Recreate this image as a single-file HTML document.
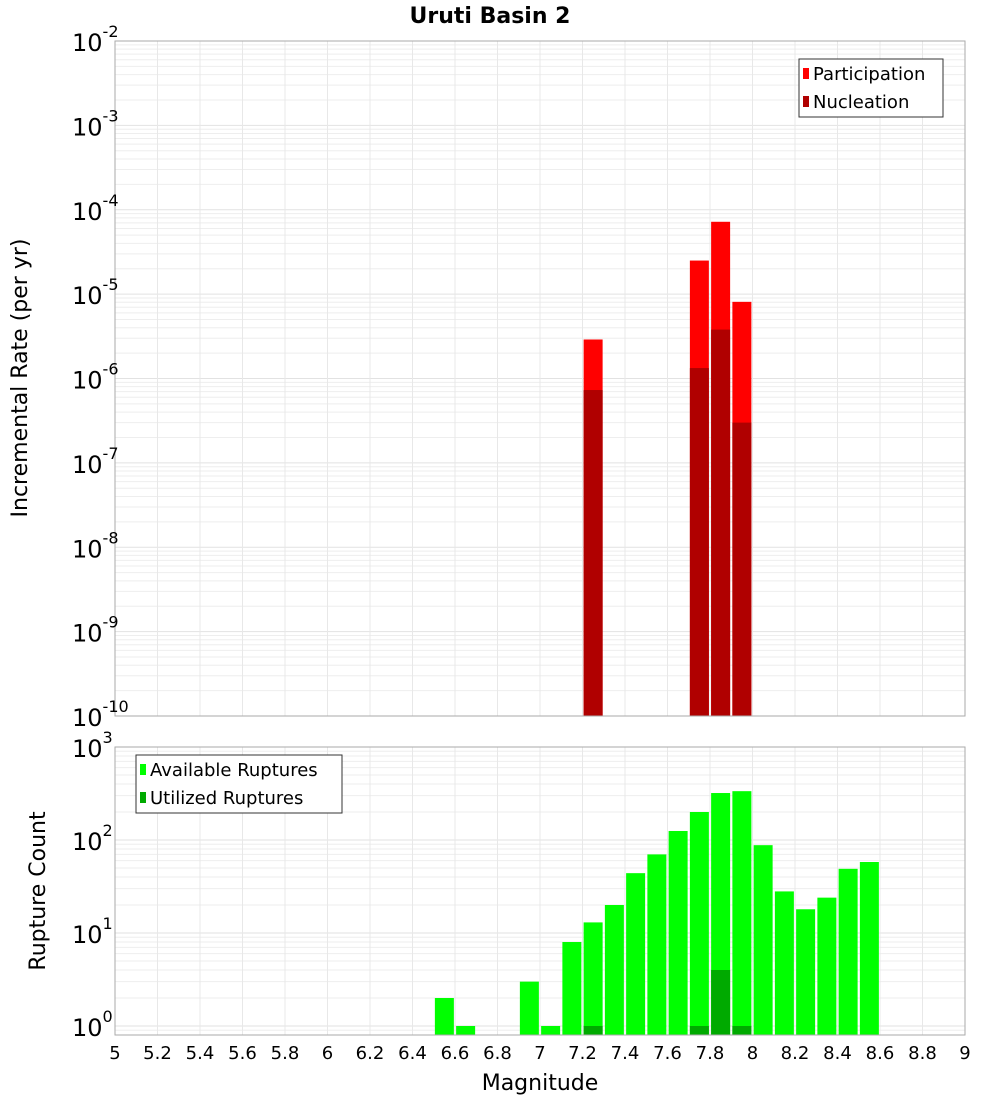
<!DOCTYPE html>
<html><head><meta charset="utf-8"><style>
body{margin:0;background:#fff;font-family:"DejaVu Sans","Liberation Sans",sans-serif}
</style></head><body>
<svg id="c" width="1000" height="1100" xmlns="http://www.w3.org/2000/svg" font-family="DejaVu Sans, Liberation Sans, sans-serif">
<text x="490" y="23" text-anchor="middle" font-size="22" font-weight="bold">Uruti Basin 2</text>
<g id="topPlot"></g>
<g id="botPlot"></g>
<text x="540" y="1090" text-anchor="middle" font-size="22">Magnitude</text>
<text transform="translate(27,378) rotate(-90)" text-anchor="middle" font-size="22">Incremental Rate (per yr)</text>
<text transform="translate(45,891) rotate(-90)" text-anchor="middle" font-size="22">Rupture Count</text>
</svg>
<script>
const mags=[6.55,6.65,6.95,7.05,7.15,7.25,7.35,7.45,7.55,7.65,7.75,7.85,7.95,8.05,8.15,8.25,8.35,8.45,8.55];
const available=[2,1,3,1,8,13,20,44,70,125,200,320,335,88,28,18,24,49,58];
const utilMags=[7.25,7.75,7.85,7.95];
const utilized=[1,1,4,1];
const rateMags=[7.25,7.75,7.85,7.95];
const participation=[2.9e-6,2.5e-5,7.2e-5,8.1e-6];
const nucleation=[7.3e-7,1.33e-6,3.8e-6,3.0e-7];
const xTicks=[5,5.2,5.4,5.6,5.8,6,6.2,6.4,6.6,6.8,7,7.2,7.4,7.6,7.8,8,8.2,8.4,8.6,8.8,9];
const topExps=[-2,-3,-4,-5,-6,-7,-8,-9,-10];
const botExps=[3,2,1,0];

const NS="http://www.w3.org/2000/svg";
const X0=115,X1=965;
const xs=m=>X0+(m-5)/4*(X1-X0);
const T0=41,T1=716;
const yT=v=>T0+(-2-Math.log10(v))*(T1-T0)/8;
const B0=747,B1=1035,BD=93;
const yB=v=>B0+(3-Math.log10(v))*BD;
function el(p,t,a){const e=document.createElementNS(NS,t);for(const k in a)e.setAttribute(k,a[k]);p.appendChild(e);return e;}
const gTop=document.getElementById('topPlot'),gBot=document.getElementById('botPlot');

function grid(g,y0,y1,yf,lo,hi){
  for(let d=lo;d<hi;d++)for(let k=1;k<10;k++){const v=k*Math.pow(10,d);const yy=yf(v);if(yy<y0||yy>y1)continue;
    const l=el(g,'line',{x1:X0,x2:X1,y1:yy,y2:yy,stroke:k==1?'#e2e2e2':'#eeeeee','stroke-width':1});
    
    }
  xTicks.forEach(t=>{const l=el(g,'line',{x1:xs(t),x2:xs(t),y1:y0,y2:y1,stroke:'#e8e8e8'});
    
    });
}
grid(gTop,T0,T1,yT,-10,-1);
grid(gBot,B0,B1,yB,-1,3);

const bw=19;
rateMags.forEach((m,i)=>{
  const p=el(gTop,'rect',{x:xs(m)-bw/2,y:yT(participation[i]),width:bw,height:T1-yT(participation[i]),fill:'#ff0000'});
  
  
  const n=el(gTop,'rect',{x:xs(m)-bw/2,y:yT(nucleation[i]),width:bw,height:T1-yT(nucleation[i]),fill:'#b00000'});
  
  
});
mags.forEach((m,i)=>{
  const r=el(gBot,'rect',{x:xs(m)-bw/2,y:yB(available[i]),width:bw,height:B1-yB(available[i]),fill:'#00ff00'});
  
  
});
utilMags.forEach((m,i)=>{
  const r=el(gBot,'rect',{x:xs(m)-bw/2,y:yB(utilized[i]),width:bw,height:B1-yB(utilized[i]),fill:'#00aa00'});
  
  
});
const f1=el(gTop,'rect',{x:X0,y:T0,width:X1-X0,height:T1-T0,fill:'none',stroke:'#aaa'});


const f2=el(gBot,'rect',{x:X0,y:B0,width:X1-X0,height:B1-B0,fill:'none',stroke:'#aaa'});



function ylab(g,yy,e){
  const t=el(g,'text',{x:72,y:yy+10,'font-size':24});
  
  
  t.textContent='10';
  const s=el(t,'tspan',{dy:-14,'font-size':16});s.textContent=String(e);
  
  
}
topExps.forEach(e=>ylab(gTop,yT(Math.pow(10,e)),e));
botExps.forEach(e=>ylab(gBot,yB(Math.pow(10,e)),e));
xTicks.forEach(t=>{const tx=el(gBot,'text',{x:xs(t),y:1059,'text-anchor':'middle','font-size':18});
  tx.textContent=String(t);
  
  });

function legend(g,lx,ly,w,items){
  const b=el(g,'rect',{x:lx,y:ly,width:w,height:58,fill:'#fff',stroke:'#333'});
  
  
  items.forEach((it,i)=>{
    const s=el(g,'rect',{x:lx+4,y:ly+9+i*28,width:6,height:11,fill:it[1]});
    
    
    const t=el(g,'text',{x:lx+14,y:ly+21+i*28,'font-size':18});t.textContent=it[0];
    
    
  });
}
legend(gTop,799,59,144,[['Participation','#ff0000'],['Nucleation','#b00000']]);
legend(gBot,136,755,206,[['Available Ruptures','#00ff00'],['Utilized Ruptures','#00aa00']]);
</script>
</body></html>
